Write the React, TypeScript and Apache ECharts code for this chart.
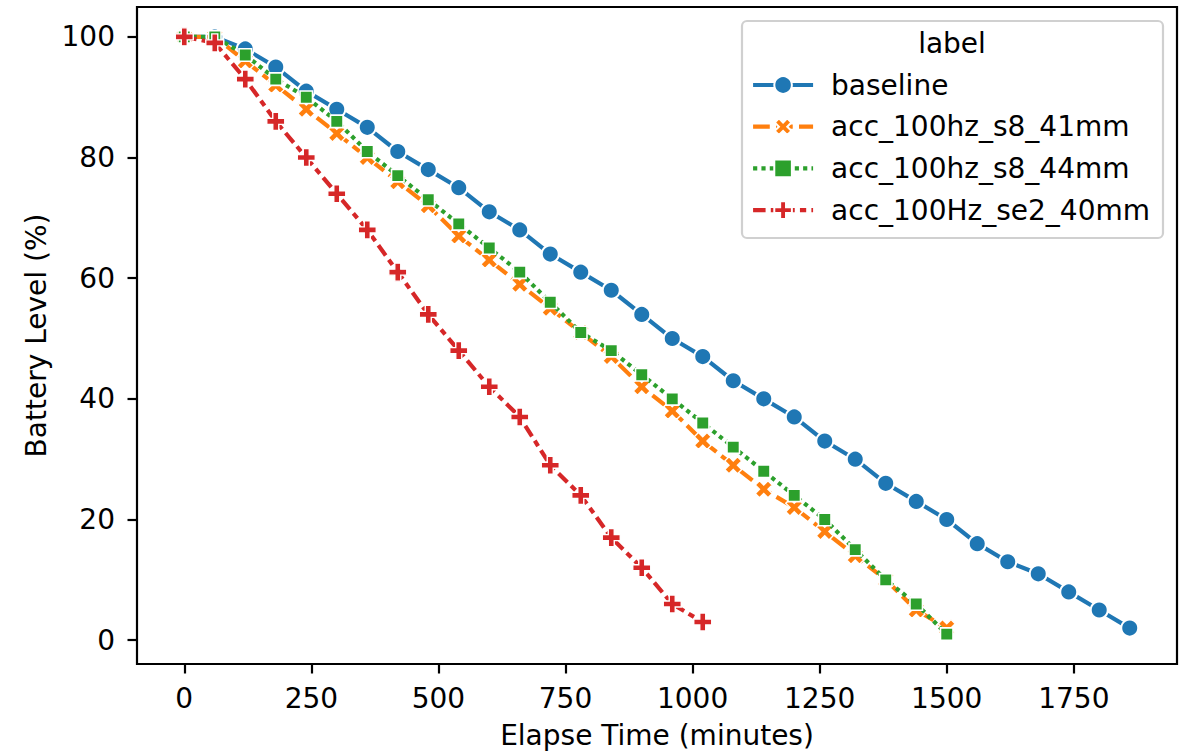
import React, { useEffect, useRef } from "react";
import * as echarts from "echarts";

const seriesNames = ["baseline", "acc_100hz_s8_41mm", "acc_100hz_s8_44mm", "acc_100Hz_se2_40mm"];
const colors = ["#1f77b4", "#ff7f0e", "#2ca02c", "#d62728"];

const timeBaseline = [0, 60, 120, 180, 240, 300, 360, 420, 480, 540, 600, 660, 720, 780, 840, 900, 960, 1020, 1080, 1140, 1200, 1260, 1320, 1380, 1440, 1500, 1560, 1620, 1680, 1740, 1800, 1860];
const levelBaseline = [100, 100, 98, 95, 91, 88, 85, 81, 78, 75, 71, 68, 64, 61, 58, 54, 50, 47, 43, 40, 37, 33, 30, 26, 23, 20, 16, 13, 11, 8, 5, 2];

const timeS841 = [0, 60, 120, 180, 240, 300, 360, 420, 480, 540, 600, 660, 720, 780, 840, 900, 960, 1020, 1080, 1140, 1200, 1260, 1320, 1380, 1440, 1500];
const levelS841 = [100, 100, 96, 92, 88, 84, 80, 76, 72, 67, 63, 59, 55, 51, 47, 42, 38, 33, 29, 25, 22, 18, 14, 10, 5, 2];

const timeS844 = [0, 60, 120, 180, 240, 300, 360, 420, 480, 540, 600, 660, 720, 780, 840, 900, 960, 1020, 1080, 1140, 1200, 1260, 1320, 1380, 1440, 1500];
const levelS844 = [100, 100, 97, 93, 90, 86, 81, 77, 73, 69, 65, 61, 56, 51, 48, 44, 40, 36, 32, 28, 24, 20, 15, 10, 6, 1];

const timeSe240 = [0, 60, 120, 180, 240, 300, 360, 420, 480, 540, 600, 660, 720, 780, 840, 900, 960, 1020];
const levelSe240 = [100, 99, 93, 86, 80, 74, 68, 61, 54, 48, 42, 37, 29, 24, 17, 12, 6, 3];

const xTicks = [0, 250, 500, 750, 1000, 1250, 1500, 1750];
const yTicks = [0, 20, 40, 60, 80, 100];

const PLUS = "path://M-1,-3L1,-3L1,-1L3,-1L3,1L1,1L1,3L-1,3L-1,1L-3,1L-3,-1L-1,-1Z";
const FONT = "DejaVu Sans";
const FS = 28;
const LW = 4.17;

function zip(xs: number[], ys: number[]) {
  return xs.map((x, i) => [x, ys[i]]);
}

export default function App() {
  const ref = useRef<HTMLDivElement>(null);
  useEffect(() => {
    document.body.style.margin = "0";
    const chart = echarts.init(ref.current!, null, { renderer: "svg" });
    const datasets = [
      zip(timeBaseline, levelBaseline),
      zip(timeS841, levelS841),
      zip(timeS844, levelS844),
      zip(timeSe240, levelSe240),
    ];
    const symbols = ["circle", PLUS, "rect", PLUS];
    const rotates = [0, 45, 0, 0];
    const sizes = [17, 18, 12.5, 18];
    const borders = [2, 1.4, 1.6, 1.4];
    const dashes: any[] = ["solid", [16.7, 6.25], [4.17, 4.17], [12.5, 5.2, 6.25, 5.2]];
    const txt = { fontSize: FS, fontFamily: FONT, color: "#000" };
    chart.setOption({
      animation: false,
      backgroundColor: "#fff",
      grid: {
        left: 137,
        right: 6,
        top: 7,
        bottom: 87,
        show: true,
        borderColor: "#000",
        borderWidth: 2.2,
        backgroundColor: "transparent",
        z: 1,
      },
      xAxis: {
        type: "value",
        min: -93,
        max: 1953,
        name: "Elapse Time (minutes)",
        nameLocation: "middle",
        nameGap: 57,
        nameTextStyle: txt,
        axisLine: { show: false, onZero: false },
        splitLine: { show: false },
        axisTick: { show: true, length: 9.5, lineStyle: { color: "#000", width: 2.2 }, customValues: xTicks },
        axisLabel: { customValues: xTicks, ...txt, margin: 20, formatter: (v: number) => String(v) },
      },
      yAxis: {
        type: "value",
        min: -3.95,
        max: 104.95,
        name: "Battery Level (%)",
        nameLocation: "middle",
        nameGap: 80,
        nameTextStyle: txt,
        axisLine: { show: false, onZero: false },
        splitLine: { show: false },
        axisTick: { show: true, length: 9.5, lineStyle: { color: "#000", width: 2.2 }, customValues: yTicks },
        axisLabel: { customValues: yTicks, ...txt, margin: 22, formatter: (v: number) => String(v) },
      },
      legend: {
        orient: "vertical",
        left: 751,
        top: 71,
        padding: 0,
        itemWidth: 60,
        itemHeight: 22,
        itemGap: 13.7,
        selectedMode: false,
        data: seriesNames,
        lineStyle: { width: LW },
        textStyle: { ...txt, lineHeight: 28, padding: [0, 0, 0, 13] },
        z: 5,
      },
      graphic: [
        {
          type: "rect",
          shape: { x: 742, y: 21, width: 421, height: 217, r: 5 },
          style: { fill: "#fff", stroke: "#d0d0d0", lineWidth: 2.2 },
          z: 4,
        },
        {
          type: "text",
          x: 952,
          y: 43,
          style: { text: "label", fontSize: FS, fontFamily: FONT, fill: "#000", align: "center", verticalAlign: "middle" },
          z: 5,
        },
      ],
      series: seriesNames.map((name, i) => ({
        name,
        type: "line",
        data: datasets[i],
        symbol: symbols[i],
        symbolSize: sizes[i],
        symbolRotate: rotates[i],
        showSymbol: true,
        showAllSymbol: true,
        z: 2 + i * 0.01,
        lineStyle: { color: colors[i], width: LW, type: dashes[i], cap: "butt" },
        itemStyle: { color: colors[i], borderColor: "#fff", borderWidth: borders[i] },
        emphasis: { disabled: true },
      })),
    });
    return () => chart.dispose();
  }, []);
  return <div ref={ref} style={{ width: 1183, height: 754 }} />;
}
